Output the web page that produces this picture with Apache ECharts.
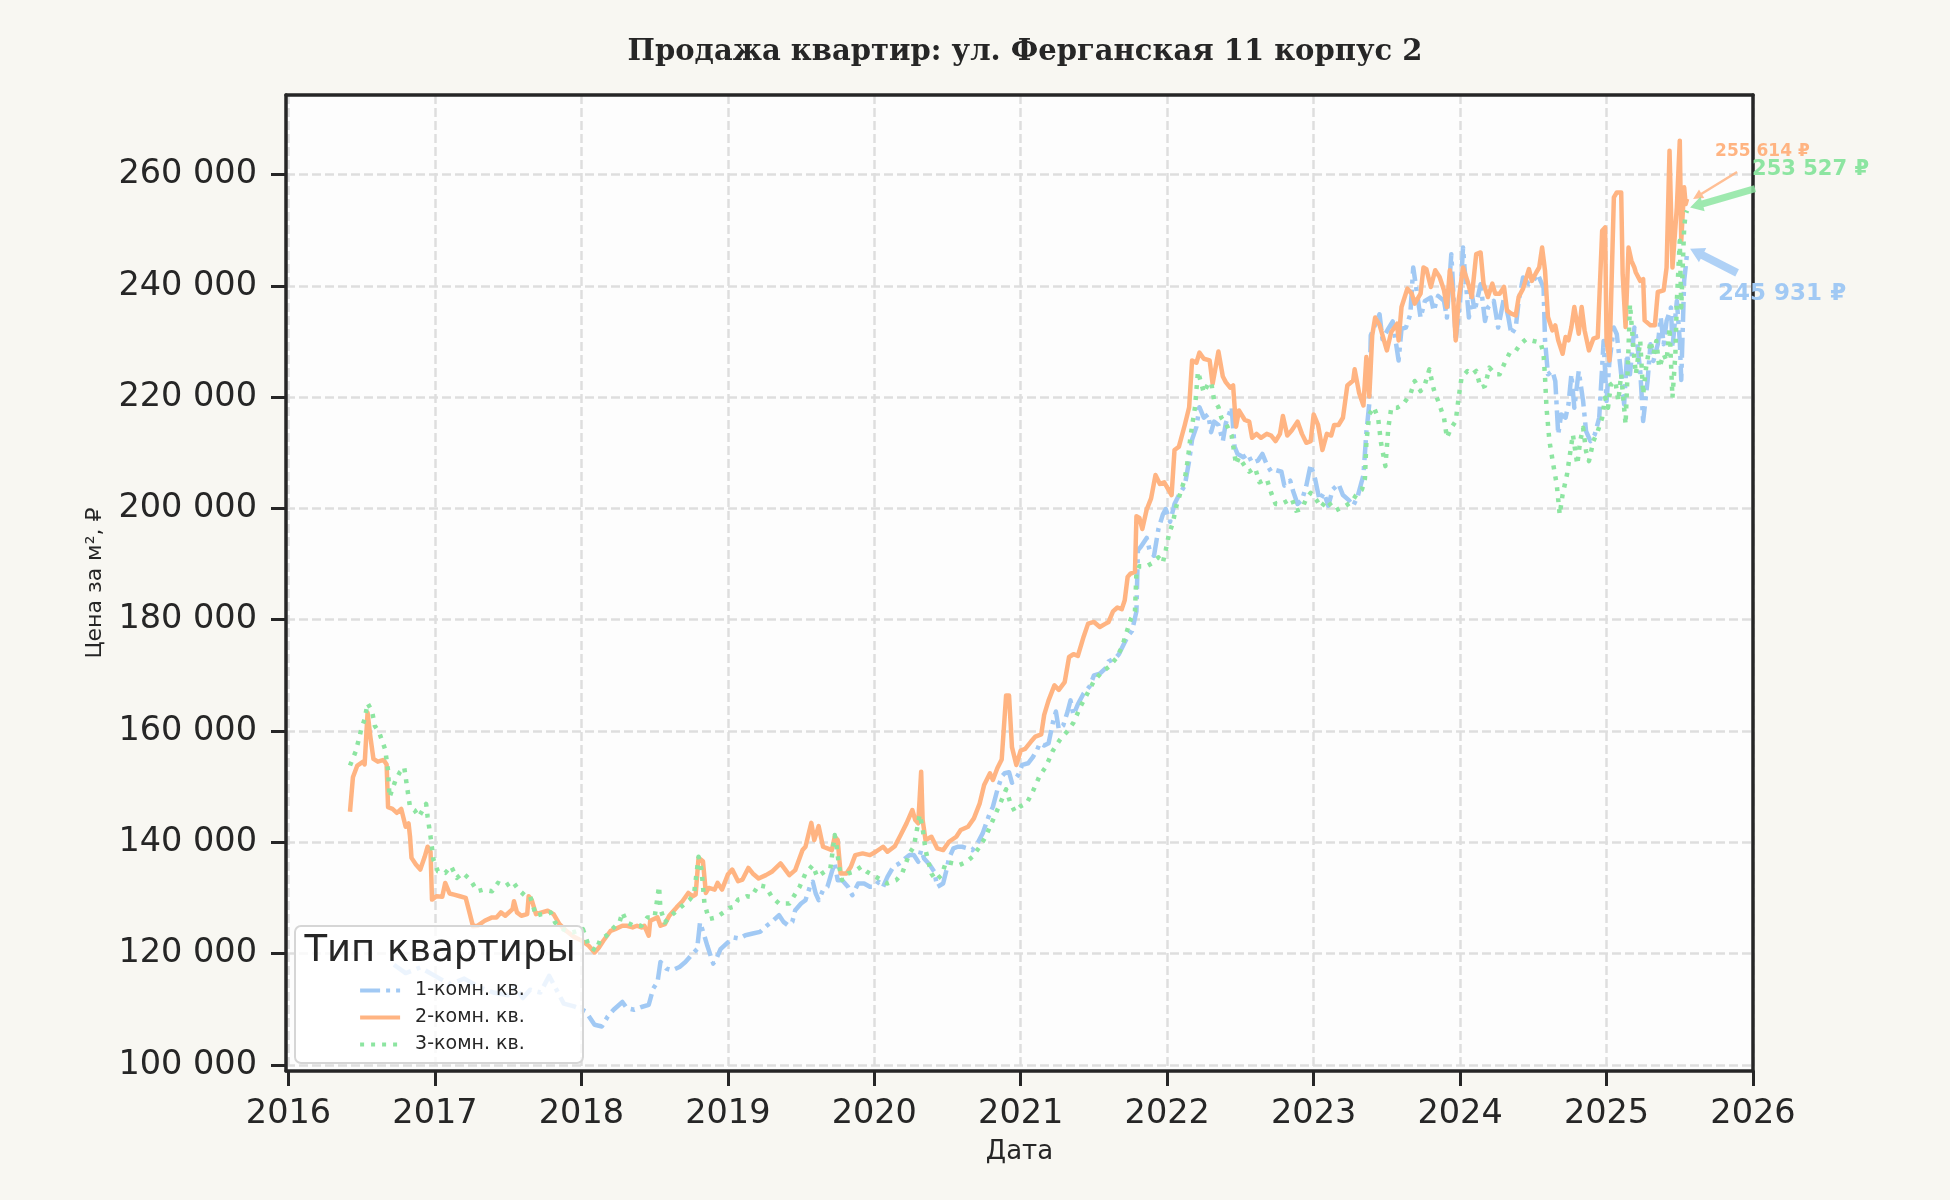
<!DOCTYPE html>
<html>
<head>
<meta charset="utf-8">
<script src="https://cdn.jsdelivr.net/npm/echarts@6/dist/echarts.min.js"></script>
<style>
    html, body { margin: 0; padding: 0; background: #f8f7f2; }
    #chart { width: 1950px; height: 1200px; }
</style>
</head>
<body>
<div id="chart"></div>
<script>
const chartTitle = "Продажа квартир: ул. Ферганская 11 корпус 2";
const legendTitle = "Тип квартиры";
const seriesNames = ["1-комн. кв.", "2-комн. кв.", "3-комн. кв."];
const yearTicks = [2016, 2017, 2018, 2019, 2020, 2021, 2022, 2023, 2024, 2025, 2026];
const priceTicks = [100000, 120000, 140000, 160000, 180000, 200000, 220000, 240000, 260000];

// [year as decimal, price per m2]
const oneRoom = [
    [2016.72,118000],[2016.80,116500],[2016.90,117500],[2017.00,116000],[2017.10,114500],[2017.20,115500],[2017.30,114000],
    [2017.40,113000],[2017.50,112500],[2017.55,114000],[2017.60,112000],[2017.65,113500],[2017.72,113000],[2017.78,116000],
    [2017.82,114000],[2017.88,111000],[2017.95,110500],[2018.00,110000],[2018.03,109600],[2018.09,107200],[2018.14,106900],
    [2018.18,108700],[2018.22,109900],[2018.28,111300],[2018.31,110200],[2018.36,109900],[2018.41,110400],[2018.46,110800],
    [2018.49,113700],[2018.52,114900],[2018.54,118500],[2018.58,117300],[2018.62,117000],[2018.67,117600],[2018.71,118500],
    [2018.76,120000],[2018.79,120800],[2018.81,125600],[2018.84,123200],[2018.86,121400],[2018.90,118200],[2018.92,119000],
    [2018.95,120800],[2019.00,122000],[2019.04,122900],[2019.08,122700],[2019.12,123300],[2019.17,123600],[2019.22,123900],
    [2019.27,125100],[2019.30,125700],[2019.35,126900],[2019.38,125700],[2019.41,125100],[2019.44,125700],[2019.46,127800],
    [2019.50,129000],[2019.53,129600],[2019.56,132000],[2019.58,132900],[2019.60,130800],[2019.62,129600],[2019.65,131400],
    [2019.68,132000],[2019.71,134700],[2019.73,136200],[2019.75,133200],[2019.78,133200],[2019.82,132000],[2019.85,130500],
    [2019.89,132600],[2019.93,132600],[2019.97,132000],[2020.00,132000],[2020.03,132900],[2020.06,132000],[2020.09,133800],
    [2020.13,135600],[2020.17,136200],[2020.21,137100],[2020.24,137700],[2020.27,137700],[2020.30,136500],[2020.32,138600],
    [2020.34,137100],[2020.38,135900],[2020.41,134700],[2020.43,132000],[2020.47,132600],[2020.49,134700],[2020.51,137100],
    [2020.54,138900],[2020.57,139200],[2020.60,139200],[2020.64,138900],[2020.67,138600],[2020.71,140100],[2020.74,141600],
    [2020.78,144600],[2020.81,146400],[2020.84,149400],[2020.87,151800],[2020.89,152400],[2020.92,152600],[2020.94,150700],
    [2020.98,152000],[2021.01,153900],[2021.05,154200],[2021.08,155200],[2021.11,156500],[2021.13,157800],[2021.16,157400],
    [2021.19,157800],[2021.22,161600],[2021.24,163500],[2021.26,160300],[2021.29,161000],[2021.32,163500],[2021.34,165500],
    [2021.36,162900],[2021.39,164800],[2021.43,166800],[2021.47,168000],[2021.50,170000],[2021.54,170300],[2021.58,171300],
    [2021.60,172500],[2021.65,173200],[2021.67,173800],[2021.70,175400],[2021.73,177000],[2021.76,178000],[2021.79,181500],
    [2021.80,192500],[2021.82,193100],[2021.86,194700],[2021.88,192500],[2021.91,191500],[2021.94,196300],[2021.97,198900],
    [2021.99,199900],[2022.02,197600],[2022.05,200800],[2022.08,202400],[2022.12,204100],[2022.15,208600],[2022.17,212400],
    [2022.20,214700],[2022.22,218200],[2022.25,216300],[2022.28,216900],[2022.30,213700],[2022.32,215600],[2022.35,215000],
    [2022.38,212100],[2022.40,215300],[2022.44,218200],[2022.46,211100],[2022.48,209800],[2022.52,209200],[2022.55,209800],
    [2022.58,208200],[2022.62,208600],[2022.65,209800],[2022.68,207900],[2022.71,206600],[2022.74,206900],[2022.78,206600],
    [2022.80,204100],[2022.84,205000],[2022.86,203100],[2022.89,200800],[2022.92,201500],[2022.95,204100],[2022.98,207900],
    [2023.01,205300],[2023.04,201500],[2023.07,202800],[2023.10,200500],[2023.13,203400],[2023.17,204400],[2023.20,202400],
    [2023.24,201500],[2023.27,200500],[2023.30,202100],[2023.34,206000],[2023.36,213700],[2023.38,218800],[2023.39,231100],
    [2023.42,233000],[2023.45,234900],[2023.47,230400],[2023.51,232300],[2023.54,233600],[2023.58,226600],[2023.60,232300],
    [2023.63,232500],[2023.66,234900],[2023.68,243300],[2023.70,239700],[2023.73,234300],[2023.76,237300],[2023.80,237900],
    [2023.82,235500],[2023.85,238200],[2023.89,237300],[2023.91,234300],[2023.94,245700],[2023.95,240900],[2023.97,230100],
    [2024.00,237300],[2024.02,246900],[2024.03,243300],[2024.06,234300],[2024.08,238500],[2024.10,235500],[2024.14,240300],
    [2024.17,233700],[2024.19,236100],[2024.23,237300],[2024.26,232500],[2024.30,237900],[2024.33,234300],[2024.35,231300],
    [2024.38,232500],[2024.40,237300],[2024.43,241500],[2024.47,240300],[2024.50,240900],[2024.53,242100],[2024.57,239700],
    [2024.58,230100],[2024.60,224100],[2024.63,224700],[2024.65,222900],[2024.67,213300],[2024.69,216900],[2024.72,216300],
    [2024.74,218700],[2024.76,224100],[2024.78,218100],[2024.81,224700],[2024.84,219300],[2024.86,213900],[2024.89,212100],
    [2024.92,213300],[2024.95,216300],[2024.98,230100],[2025.00,219300],[2025.02,226500],[2025.05,232500],[2025.07,231300],
    [2025.10,224100],[2025.12,218700],[2025.14,227700],[2025.16,224100],[2025.19,232500],[2025.21,229500],[2025.23,224700],
    [2025.25,215700],[2025.28,222900],[2025.30,229500],[2025.32,226500],[2025.35,229500],[2025.37,234300],[2025.39,229500],
    [2025.41,233700],[2025.44,236100],[2025.45,228900],[2025.48,237300],[2025.50,230100],[2025.51,223100],[2025.53,240900],
    [2025.54,243300],[2025.55,245931]
];

const twoRoom = [
    [2016.42,145500],[2016.44,151700],[2016.47,153800],[2016.51,154500],[2016.52,154000],[2016.54,163300],[2016.56,158800],
    [2016.58,155000],[2016.61,154500],[2016.65,154800],[2016.67,154000],[2016.68,146300],[2016.71,146000],[2016.74,145300],
    [2016.77,146000],[2016.80,142800],[2016.82,143400],[2016.83,141000],[2016.84,137200],[2016.87,136000],[2016.90,135100],
    [2016.93,137400],[2016.95,139200],[2016.97,138300],[2016.98,129700],[2017.01,130300],[2017.05,130200],[2017.07,132700],
    [2017.10,130800],[2017.13,130600],[2017.17,130300],[2017.21,130000],[2017.23,128000],[2017.26,124900],[2017.29,125000],
    [2017.34,125900],[2017.39,126500],[2017.42,126500],[2017.45,127400],[2017.48,126800],[2017.53,128000],[2017.54,129400],
    [2017.56,127400],[2017.59,126800],[2017.63,127100],[2017.64,130300],[2017.66,129700],[2017.69,127100],[2017.73,127400],
    [2017.77,127700],[2017.81,127100],[2017.85,125300],[2017.90,124000],[2017.95,123000],[2017.99,122500],[2018.02,122000],
    [2018.05,121400],[2018.09,120200],[2018.12,121100],[2018.15,122300],[2018.20,124100],[2018.23,124400],[2018.28,125000],
    [2018.31,125000],[2018.35,124700],[2018.38,125000],[2018.41,124700],[2018.43,125000],[2018.46,123200],[2018.47,125900],
    [2018.52,126500],[2018.54,125000],[2018.57,125300],[2018.60,126800],[2018.65,128300],[2018.69,129400],[2018.73,130900],
    [2018.76,130300],[2018.78,130600],[2018.80,137200],[2018.83,136600],[2018.85,130900],[2018.87,131800],[2018.91,131500],
    [2018.93,132700],[2018.96,131500],[2019.00,134200],[2019.03,135100],[2019.07,133000],[2019.10,133300],[2019.14,135400],
    [2019.17,134400],[2019.21,133500],[2019.26,134100],[2019.30,134700],[2019.36,136200],[2019.42,134100],[2019.46,135000],
    [2019.51,138600],[2019.53,139200],[2019.57,143500],[2019.59,140400],[2019.62,142900],[2019.65,139200],[2019.68,138900],
    [2019.71,138600],[2019.73,141000],[2019.75,140400],[2019.77,134400],[2019.81,134400],[2019.84,135600],[2019.87,137700],
    [2019.92,138000],[2019.97,137700],[2020.01,138300],[2020.06,139200],[2020.09,138300],[2020.14,139300],[2020.18,141300],
    [2020.22,143400],[2020.26,145800],[2020.28,144000],[2020.30,143400],[2020.32,152700],[2020.33,144000],[2020.35,140400],
    [2020.39,141000],[2020.43,138900],[2020.47,138600],[2020.51,140100],[2020.56,141000],[2020.59,142200],[2020.64,142800],
    [2020.68,144300],[2020.72,147000],[2020.75,150300],[2020.79,152400],[2020.81,151200],[2020.84,153300],[2020.87,154900],
    [2020.90,166400],[2020.92,166400],[2020.94,157100],[2020.97,153900],[2021.00,156500],[2021.03,156800],[2021.07,158100],
    [2021.10,159000],[2021.14,159400],[2021.16,162900],[2021.19,165500],[2021.23,168200],[2021.26,167400],[2021.30,168800],
    [2021.33,173300],[2021.36,173800],[2021.39,173500],[2021.43,177000],[2021.46,179300],[2021.50,179600],[2021.54,178700],
    [2021.58,179300],[2021.60,179600],[2021.63,181500],[2021.66,182200],[2021.69,181900],[2021.71,183500],[2021.73,187700],
    [2021.75,188300],[2021.78,188600],[2021.79,198600],[2021.81,198300],[2021.83,196300],[2021.86,199800],[2021.89,201800],
    [2021.92,206000],[2021.95,204400],[2021.98,204700],[2022.03,202400],[2022.05,210500],[2022.08,211100],[2022.12,215000],
    [2022.15,218200],[2022.17,226600],[2022.20,226200],[2022.22,228000],[2022.25,226900],[2022.29,226600],[2022.31,222400],
    [2022.35,228200],[2022.38,223700],[2022.40,222700],[2022.43,221700],[2022.45,222100],[2022.47,214700],[2022.49,217600],
    [2022.53,215900],[2022.56,215600],[2022.58,212700],[2022.61,213400],[2022.64,212700],[2022.68,213400],[2022.71,213100],
    [2022.74,212100],[2022.77,213400],[2022.79,216600],[2022.82,213100],[2022.85,214000],[2022.89,215600],[2022.92,213400],
    [2022.95,211800],[2022.98,212100],[2023.00,216900],[2023.03,215000],[2023.06,210500],[2023.09,213400],[2023.12,213100],
    [2023.14,215000],[2023.17,215000],[2023.20,216300],[2023.23,222100],[2023.27,223000],[2023.28,225000],[2023.31,220800],
    [2023.34,218500],[2023.36,227200],[2023.38,220100],[2023.40,231100],[2023.42,234300],[2023.45,233000],[2023.50,228400],
    [2023.53,231700],[2023.57,233200],[2023.58,230200],[2023.60,236200],[2023.64,239500],[2023.67,238600],[2023.69,236800],
    [2023.73,238600],[2023.75,243300],[2023.77,243000],[2023.80,239800],[2023.83,242800],[2023.86,241600],[2023.89,239200],
    [2023.91,236200],[2023.93,242800],[2023.95,239200],[2023.97,230200],[2023.99,237400],[2024.02,243300],[2024.05,240900],
    [2024.08,238000],[2024.11,245700],[2024.14,246000],[2024.16,240400],[2024.19,238000],[2024.22,240400],[2024.24,238600],
    [2024.27,238600],[2024.30,239800],[2024.32,235600],[2024.35,235000],[2024.38,234700],[2024.40,238000],[2024.43,239500],
    [2024.47,243000],[2024.49,240900],[2024.52,242400],[2024.54,243300],[2024.56,246900],[2024.58,242700],[2024.60,234400],
    [2024.63,232000],[2024.65,232900],[2024.67,230200],[2024.70,227800],[2024.72,230800],[2024.74,230200],[2024.76,232600],
    [2024.78,236200],[2024.81,231400],[2024.83,236200],[2024.85,232000],[2024.88,228400],[2024.91,230500],[2024.94,230800],
    [2024.97,249900],[2024.99,250500],[2025.00,230200],[2025.02,226600],[2025.05,255900],[2025.07,256800],[2025.10,256800],
    [2025.11,242100],[2025.13,232600],[2025.15,246900],[2025.17,244500],[2025.19,243300],[2025.20,242400],[2025.23,240900],
    [2025.25,241200],[2025.26,233800],[2025.30,232900],[2025.33,232900],[2025.35,238900],[2025.39,239200],[2025.41,243300],
    [2025.43,264300],[2025.45,243300],[2025.48,254100],[2025.50,266100],[2025.51,248100],[2025.53,257700],[2025.54,254700],
    [2025.55,255614]
];

const threeRoom = [
    [2016.42,153800],[2016.46,156400],[2016.50,160600],[2016.52,162100],[2016.54,165000],[2016.57,163600],[2016.59,160900],
    [2016.62,159700],[2016.66,156700],[2016.68,152900],[2016.69,148100],[2016.73,151100],[2016.76,152600],[2016.79,153500],
    [2016.81,149900],[2016.83,146300],[2016.86,145800],[2016.89,144600],[2016.91,145500],[2016.94,146900],[2016.95,144600],
    [2016.97,141000],[2016.99,136900],[2017.02,134800],[2017.07,134500],[2017.11,135700],[2017.15,133600],[2017.19,134500],
    [2017.24,133300],[2017.29,131200],[2017.33,131500],[2017.39,131200],[2017.43,132700],[2017.48,132100],[2017.53,133000],
    [2017.57,131500],[2017.62,130300],[2017.65,130300],[2017.69,126800],[2017.73,127100],[2017.79,127400],[2017.82,125600],
    [2017.88,124300],[2017.94,123800],[2018.01,124400],[2018.05,121400],[2018.10,120500],[2018.13,122600],[2018.17,123200],
    [2018.21,124400],[2018.26,125600],[2018.28,127400],[2018.31,125600],[2018.36,125000],[2018.41,125000],[2018.45,126500],
    [2018.50,126500],[2018.53,132100],[2018.54,128000],[2018.57,125600],[2018.60,126500],[2018.65,127700],[2018.69,128600],
    [2018.74,129700],[2018.77,130900],[2018.80,137400],[2018.82,135100],[2018.84,129100],[2018.87,126200],[2018.92,126500],
    [2018.97,127400],[2019.01,128200],[2019.04,128400],[2019.07,129700],[2019.10,129900],[2019.13,130300],[2019.16,130200],
    [2019.21,132300],[2019.26,132000],[2019.30,130200],[2019.35,129000],[2019.42,129000],[2019.49,132000],[2019.53,134400],
    [2019.58,135900],[2019.61,133800],[2019.66,134700],[2019.70,135300],[2019.73,141300],[2019.74,139800],[2019.76,135600],
    [2019.78,133200],[2019.82,134400],[2019.86,134700],[2019.91,135600],[2019.95,134700],[2019.99,134100],[2020.03,133500],
    [2020.09,132600],[2020.15,133200],[2020.19,134400],[2020.24,138000],[2020.27,139200],[2020.31,145000],[2020.33,142500],
    [2020.35,138600],[2020.39,134400],[2020.42,133200],[2020.46,134100],[2020.49,136500],[2020.54,136200],[2020.58,135900],
    [2020.63,136500],[2020.67,137400],[2020.72,139200],[2020.76,141000],[2020.81,144000],[2020.86,147000],[2020.90,149500],
    [2020.93,147000],[2020.96,145500],[2021.00,146500],[2021.04,147000],[2021.08,149000],[2021.13,152000],[2021.17,153500],
    [2021.22,156500],[2021.27,158500],[2021.32,160000],[2021.36,161500],[2021.41,164500],[2021.45,166500],[2021.50,169000],
    [2021.55,170500],[2021.60,171500],[2021.65,173000],[2021.69,175000],[2021.72,177500],[2021.75,180000],[2021.78,181500],
    [2021.79,188600],[2021.81,189600],[2021.86,189600],[2021.90,190200],[2021.94,191200],[2021.97,190200],[2021.99,192500],
    [2022.01,195100],[2022.04,197600],[2022.06,200200],[2022.09,202800],[2022.12,205300],[2022.14,208600],[2022.16,213100],
    [2022.19,218200],[2022.21,224600],[2022.23,222700],[2022.25,220800],[2022.28,222400],[2022.30,222700],[2022.32,219500],
    [2022.35,218200],[2022.37,216300],[2022.40,215300],[2022.44,213100],[2022.47,207900],[2022.49,209200],[2022.53,207600],
    [2022.56,206600],[2022.60,207300],[2022.63,204700],[2022.68,205300],[2022.71,202800],[2022.74,200800],[2022.78,200800],
    [2022.81,201200],[2022.85,201800],[2022.88,199600],[2022.92,199900],[2022.95,201800],[2022.98,202800],[2023.02,201500],
    [2023.05,200200],[2023.09,201500],[2023.12,200500],[2023.15,199600],[2023.19,200200],[2023.22,200500],[2023.26,201200],
    [2023.29,202400],[2023.33,203400],[2023.35,205300],[2023.36,211800],[2023.38,216900],[2023.41,218200],[2023.44,216300],
    [2023.46,211800],[2023.49,207600],[2023.51,214500],[2023.53,218100],[2023.57,218100],[2023.61,218700],[2023.66,220500],
    [2023.69,222900],[2023.73,221100],[2023.76,222300],[2023.79,225000],[2023.82,221400],[2023.85,219300],[2023.89,216300],
    [2023.91,212700],[2023.94,214500],[2023.97,215700],[2023.99,219900],[2024.01,223500],[2024.05,224700],[2024.08,224100],
    [2024.11,224700],[2024.14,221700],[2024.17,222000],[2024.20,225300],[2024.24,224100],[2024.27,224100],[2024.31,226500],
    [2024.34,228000],[2024.38,228300],[2024.41,229500],[2024.45,230400],[2024.50,230100],[2024.55,229800],[2024.57,227700],
    [2024.58,223500],[2024.59,218100],[2024.61,212100],[2024.64,207300],[2024.66,204300],[2024.68,198900],[2024.70,202500],
    [2024.73,206100],[2024.75,209700],[2024.77,213300],[2024.80,207900],[2024.82,212100],[2024.84,214500],[2024.86,210300],
    [2024.88,208500],[2024.91,212100],[2024.94,213900],[2024.97,216300],[2024.99,219900],[2025.01,218100],[2025.03,222300],
    [2025.06,222900],[2025.08,219300],[2025.10,224100],[2025.13,215100],[2025.15,228900],[2025.16,236700],[2025.18,230100],
    [2025.20,224100],[2025.23,230100],[2025.25,220500],[2025.27,225300],[2025.30,230100],[2025.32,227700],[2025.34,230100],
    [2025.36,225300],[2025.39,227700],[2025.41,226500],[2025.43,232500],[2025.45,219900],[2025.47,227700],[2025.48,237300],
    [2025.50,248100],[2025.51,236100],[2025.53,250500],[2025.54,252900],[2025.55,253527]
];

const seriesData = [oneRoom, twoRoom, threeRoom];
const colors = ["#a1c9f4", "#ffb482", "#8de5a1"];
const dashes = [[20, 6, 4, 6], "solid", [4, 7]];

const font = "DejaVu Sans";
const ink = "#262626";
const xMin = 2015.983, xMax = 2026;
const yMin = 98900, yMax = 274300;

function fmtPrice(v) {
    return String(Math.round(v)).replace(/\B(?=(\d{3})+(?!\d))/g, " ");
}

// arrow as polygon from tail to tip
function arrowPoints(tail, tip, shaftW, headW, headL) {
    const dx = tip[0] - tail[0], dy = tip[1] - tail[1];
    const len = Math.hypot(dx, dy);
    const ux = dx / len, uy = dy / len, nx = -uy, ny = ux;
    const bx = tip[0] - ux * headL, by = tip[1] - uy * headL;
    return [
        [tail[0] + nx * shaftW / 2, tail[1] + ny * shaftW / 2],
        [bx + nx * shaftW / 2, by + ny * shaftW / 2],
        [bx + nx * headW / 2, by + ny * headW / 2],
        tip,
        [bx - nx * headW / 2, by - ny * headW / 2],
        [bx - nx * shaftW / 2, by - ny * shaftW / 2],
        [tail[0] - nx * shaftW / 2, tail[1] - ny * shaftW / 2]
    ];
}

const gridLine = {show: true, lineStyle: {color: "#dedede", width: 2.5, type: [9, 4]}};
const spine = {show: true, onZero: false, lineStyle: {color: ink, width: 3.5}};
// top and right frame lines, drawn over the grid lines
const frameAxis = {
    type: "value", axisLine: spine, axisTick: {show: false}, axisLabel: {show: false}, splitLine: {show: false}, z: 1
};

const chart = echarts.init(document.getElementById("chart"), null, {renderer: "canvas"});

chart.setOption({
    backgroundColor: "#f8f7f2",
    animation: false,
    title: {
        text: chartTitle,
        left: 1020,
        textAlign: "center",
        top: 33,
        textStyle: {fontFamily: "DejaVu Serif", fontWeight: "bold", fontSize: 29, color: ink}
    },
    grid: {
        left: 286, right: 197, top: 95, bottom: 129,
        show: true, backgroundColor: "#fdfdfd", borderWidth: 0
    },
    xAxis: [{
        type: "value",
        min: xMin, max: xMax,
        splitNumber: 10,
        name: "Дата",
        nameLocation: "middle",
        nameGap: 68,
        nameTextStyle: {fontFamily: font, fontSize: 26, color: ink},
        axisLine: spine,
        axisTick: {show: true, length: 15, lineStyle: {color: ink, width: 3}, customValues: yearTicks},
        axisLabel: {customValues: yearTicks, formatter: v => String(v), fontFamily: font, fontSize: 33.5, color: ink, margin: 26},
        splitLine: gridLine
    }, Object.assign({position: "top", min: xMin, max: xMax}, frameAxis)],
    yAxis: [{
        type: "value",
        min: yMin, max: yMax,
        splitNumber: 9,
        name: "Цена за м², ₽",
        nameLocation: "middle",
        nameGap: 180,
        nameTextStyle: {fontFamily: font, fontSize: 22, color: ink},
        axisLine: spine,
        axisTick: {show: true, length: 15, lineStyle: {color: ink, width: 3}, customValues: priceTicks},
        axisLabel: {customValues: priceTicks, formatter: fmtPrice, fontFamily: font, fontSize: 33.5, color: ink, margin: 29},
        splitLine: gridLine
    }, Object.assign({position: "right", min: yMin, max: yMax}, frameAxis)],
    legend: {
        orient: "vertical",
        left: 353, top: 976,
        itemWidth: 40, itemHeight: 14, itemGap: 8,
        itemStyle: {opacity: 0},
        lineStyle: {width: 4.2},
        textStyle: {fontFamily: font, fontSize: 19, color: ink, padding: [0, 0, 0, 10]},
        data: seriesNames,
        z: 20
    },
    series: seriesData.map((d, i) => ({
        name: seriesNames[i],
        type: "line",
        data: d,
        showSymbol: false,
        symbol: "circle",
        silent: true,
        z: 2 + i,
        itemStyle: {color: colors[i]},
        lineStyle: {color: colors[i], width: 4.5, type: dashes[i], cap: "butt", join: "round"}
    }))
});

// annotations for the last values: offsets of label and arrow relative to the last point
const notes = [
    {text: [31, 41], size: 23, tail: [50, 20], tip: [3, -4], shaft: 8, head: 16, headL: 14},
    {text: [28, -47], size: 17, tail: [50, -27], tip: [6, 0], shaft: 2.5, head: 10, headL: 10},
    {text: [65, -41], size: 21, tail: [68, -22], tip: [3, -3], shaft: 7, head: 15, headL: 13}
];

const graphics = [
    {
        type: "rect", z: 10,
        shape: {x: 295, y: 926, width: 288, height: 137, r: 6},
        style: {fill: "rgba(255,255,255,0.8)", stroke: "#d6d6d6", lineWidth: 2}
    },
    {
        type: "text", z: 11, x: 440, y: 951,
        style: {text: legendTitle, fontFamily: font, fontSize: 37, fill: ink, align: "center", verticalAlign: "middle"}
    }
];

seriesData.forEach((d, i) => {
    const last = d[d.length - 1];
    const p = chart.convertToPixel({gridIndex: 0}, last);
    const n = notes[i];
    graphics.push({
        type: "polygon", z: 12,
        shape: {points: arrowPoints([p[0] + n.tail[0], p[1] + n.tail[1]], [p[0] + n.tip[0], p[1] + n.tip[1]], n.shaft, n.head, n.headL)},
        style: {fill: colors[i], opacity: 0.85}
    });
    graphics.push({
        type: "text", z: 12,
        x: p[0] + n.text[0], y: p[1] + n.text[1],
        style: {
            text: fmtPrice(last[1]) + " ₽",
            fontFamily: font, fontWeight: "bold", fontSize: n.size,
            fill: colors[i], align: "left", verticalAlign: "middle"
        }
    });
});

chart.setOption({graphic: graphics});
</script>
</body>
</html>
